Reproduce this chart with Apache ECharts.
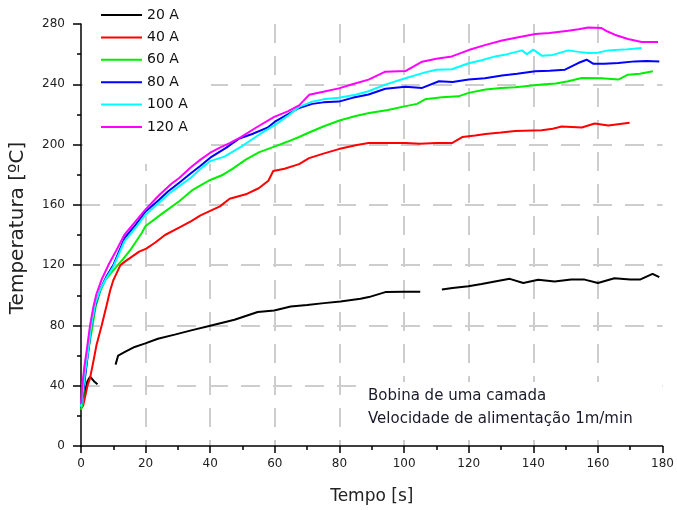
<!DOCTYPE html>
<html>
<head>
<meta charset="utf-8">
<script src="https://cdn.jsdelivr.net/npm/echarts@6/dist/echarts.min.js"></script>
<style>
  html, body { margin: 0; padding: 0; background: #fff; }
  #chart { width: 677px; height: 510px; }
</style>
</head>
<body>
<div id="chart"></div>
<script>
// Temperatura da bobina ao longo do tempo, para cada corrente
const correntes = ['20 A', '40 A', '60 A', '80 A', '100 A', '120 A'];
const cores = ['#000000', '#ff0000', '#00ee00', '#0000ff', '#00ffff', '#ff00ff'];

// [tempo (s), temperatura (ºC)]; null interrompe a curva
const pontos20A = [[0,25],[1,34],[2,43],[2.8,46],[4,43],[5.1,41],[8,null],[10.7,54],[11.5,60],[13.6,62.4],[16.6,65.7],[19.7,67.9],[23.8,71.2],[29,73.9],[34.1,76.7],[40.3,80],[47.5,83.8],[54.7,88.9],[59.8,89.9],[64.9,92.6],[70,93.5],[75.2,94.8],[80.3,95.9],[86.5,97.7],[89.1,98.8],[94.2,102.1],[100,102.3],[105,102.3],[108,null],[111.7,103.8],[115,104.8],[119.9,106],[124,107.5],[128.1,109.1],[132.7,110.9],[136.9,108.2],[141.5,110.3],[146.6,109.1],[151.7,110.4],[155.9,110.4],[160,108.2],[165.1,111.3],[170,110.4],[173,110.4],[176.9,114.2],[179,112]];

const pontos40A = [[0,25],[0.7,27],[2,40],[2.8,45],[4,58],[4.8,67],[6.4,80],[7.9,93],[9,103],[10,110],[12.2,120],[14,123],[16,126],[18,129],[20.2,131],[23,135],[26,140],[30.5,145],[34,149],[37,153],[40,156],[43,159],[46,164],[51,167],[55,171],[58,176],[59.5,182.5],[63,184],[67.5,187],[70.6,191],[75,194],[79.8,197],[85,199.5],[89,201],[95,201],[100.4,201],[105,200.5],[110,201],[114.8,201],[118,205],[122,206],[125.2,207],[130,208],[134.4,209],[142.6,209.5],[146,210.5],[148.8,212],[155,211.3],[159,214],[163.2,212.7],[169.8,214.5]];

const pontos60A = [[0,24],[0.5,28],[1.2,45],[2,60],[3.6,80],[4.5,92],[6,103],[7.5,110],[9,114],[11,119],[13,124],[15.6,131],[18.7,141],[20,146],[25,154],[30.5,162.6],[34.6,170],[37,173],[40,176.5],[44,180],[47,184],[51,190],[55.2,195],[60.3,199],[64,202],[67.5,205],[70.6,208],[75,212],[80,216],[85,219],[89.2,221],[95,223],[100.5,225.5],[104,227],[106.5,230],[111.7,231.4],[116.8,232],[120,234.3],[125.2,236.5],[130,237.5],[134.4,238],[142.6,239.8],[147,240.5],[150.8,242],[155,244.2],[161.1,244],[166.3,243.1],[169.3,246.4],[173,247],[177,248.6]];

const pontos80A = [[0,27],[0.5,33],[1.2,45],[2.2,62],[3.2,80],[4.5,94],[6,104],[8,113],[10,120],[13.5,138],[17,147],[20,155.6],[24,163],[27,169],[30.5,174.8],[34,181],[37,186],[40,191.3],[45,198],[49,204],[53,207],[57.7,211.2],[60.3,215.6],[64,220],[67.5,224.3],[71.6,227],[75,228],[79.8,228.5],[84,231],[89,233.2],[94.2,237],[100.4,238.3],[105.6,237.6],[110.8,242],[115,241.5],[120,243.1],[125,244],[130.3,245.8],[135,247],[140.6,248.6],[145,249],[149.8,249.7],[153.9,254.1],[156.5,256.3],[158.5,253.7],[162,253.7],[166.3,254.1],[171.4,255.2],[175,255.5],[179,255.2]];

const pontos100A = [[0,26],[0.5,35],[1.2,48],[2.2,63],[3.2,80],[4.5,95],[6,104],[8,112],[10,119],[13.5,136],[17,145],[20,153.6],[24,161],[27,167],[30.5,172.6],[34,178],[37,184],[40,189],[44.4,192],[49.6,198.6],[55.2,206.7],[60.3,213.4],[64,219],[67.5,225],[71.6,228.5],[75,230],[79.8,231],[85,233],[89,235.4],[94.2,239.8],[100.4,244],[106.5,247.9],[110,249.7],[114.8,250],[120,254],[124,256],[128.2,258.5],[132,260],[136.5,262.5],[138,260],[140,263],[142.6,259],[146,259.5],[150.8,262.5],[154,261.5],[157,260.7],[160,261],[163.2,262.5],[168,263],[173.5,264]];

const pontos120A = [[0,28],[0.4,40],[1,52],[1.8,64],[2.8,80],[3.8,92],[4.8,101],[6.5,111],[8.4,119.7],[10.5,128],[13.4,140],[16.5,148],[20,157],[24,166],[28,174],[30.5,178],[34,185],[37,190],[40,194.6],[43,198],[46,201],[49.5,205],[54,211],[59.8,218.4],[64,222],[67.5,226],[70.6,233],[75,235],[79.8,237.3],[84,240],[89,243.1],[94.2,248.4],[100.4,248.8],[105.6,255],[110,257],[114.8,258.5],[120,262.7],[125,266],[130.3,269],[135,271],[140.6,273.3],[145,274],[150.8,275.5],[154,276.5],[157,277.7],[161.1,277.3],[163,275],[165.2,272.9],[169.3,270],[173.5,268],[178.6,268]];

const curvas = [pontos20A, pontos40A, pontos60A, pontos80A, pontos100A, pontos120A];

const tituloX = 'Tempo [s]';
const tituloY = 'Temperatura [ºC]';
const anotacao = ['Bobina de uma camada', 'Velocidade de alimentação 1m/min'];

const fonte = 'DejaVu Sans';
const chart = echarts.init(document.getElementById('chart'), null, { renderer: 'canvas' });

const eixoComum = {
  axisLine: { show: true, onZero: false, lineStyle: { color: '#000', width: 1.5 } },
  axisTick: { show: true, inside: false, lineStyle: { color: '#000', width: 1.5 } },
  minorTick: { show: true, splitNumber: 2, length: 4, lineStyle: { color: '#000', width: 1.5 } },
  splitLine: {
    show: true, showMinLine: false, showMaxLine: false,
    lineStyle: { color: '#cdcdcd', width: 2, type: [19, 13] }
  },
  axisLabel: { color: '#222', fontFamily: fonte, fontSize: 12 }
};

chart.setOption({
  animation: false,
  backgroundColor: '#fff',
  grid: { left: 81, right: 12, top: 24, bottom: 62, containLabel: false },
  xAxis: Object.assign({}, eixoComum, {
    type: 'value', min: 0, max: 180, interval: 20,
    name: tituloX, nameLocation: 'middle', nameGap: 42,
    nameTextStyle: { color: '#222', fontFamily: fonte, fontSize: 17 },
    axisTick: Object.assign({}, eixoComum.axisTick, { length: 7 }),
    axisLabel: Object.assign({}, eixoComum.axisLabel, { margin: 12 })
  }),
  yAxis: Object.assign({}, eixoComum, {
    type: 'value', min: 0, max: 280, interval: 40,
    axisTick: Object.assign({}, eixoComum.axisTick, { length: 8 }),
    axisLabel: Object.assign({}, eixoComum.axisLabel, { margin: 16 })
  }),
  legend: {
    orient: 'vertical', left: 100, top: 8, padding: 0,
    itemWidth: 41, itemHeight: 14, itemGap: 8.4,
    itemStyle: { opacity: 0 },
    textStyle: { color: '#111', fontFamily: fonte, fontSize: 14 },
    data: correntes
  },
  graphic: [
    // fundo branco da legenda e da anotação
    { type: 'rect', z: 1, shape: { x: 83, y: 23, width: 128, height: 141 }, style: { fill: '#fff' } },
    { type: 'rect', z: 1, shape: { x: 358, y: 382, width: 304, height: 54 }, style: { fill: '#fff' } },
    { type: 'text', z: 5, left: 368, top: 389, style: { text: anotacao[0], fill: '#1a1a2a', font: '15px "' + fonte + '"' } },
    { type: 'text', z: 5, left: 368, top: 412, style: { text: anotacao[1], fill: '#1a1a2a', font: '15px "' + fonte + '"' } },
    {
      type: 'text', z: 5, x: 18, y: 228, rotation: Math.PI / 2,
      style: { text: tituloY, fill: '#222', font: '20px "' + fonte + '"', align: 'center', verticalAlign: 'middle' }
    }
  ],
  series: curvas.map((pts, i) => ({
    name: correntes[i],
    type: 'line',
    data: pts,
    symbol: 'none',
    connectNulls: false,
    z: 3,
    lineStyle: { color: cores[i], width: 2 },
    itemStyle: { color: cores[i] }
  }))
});
</script>
</body>
</html>
